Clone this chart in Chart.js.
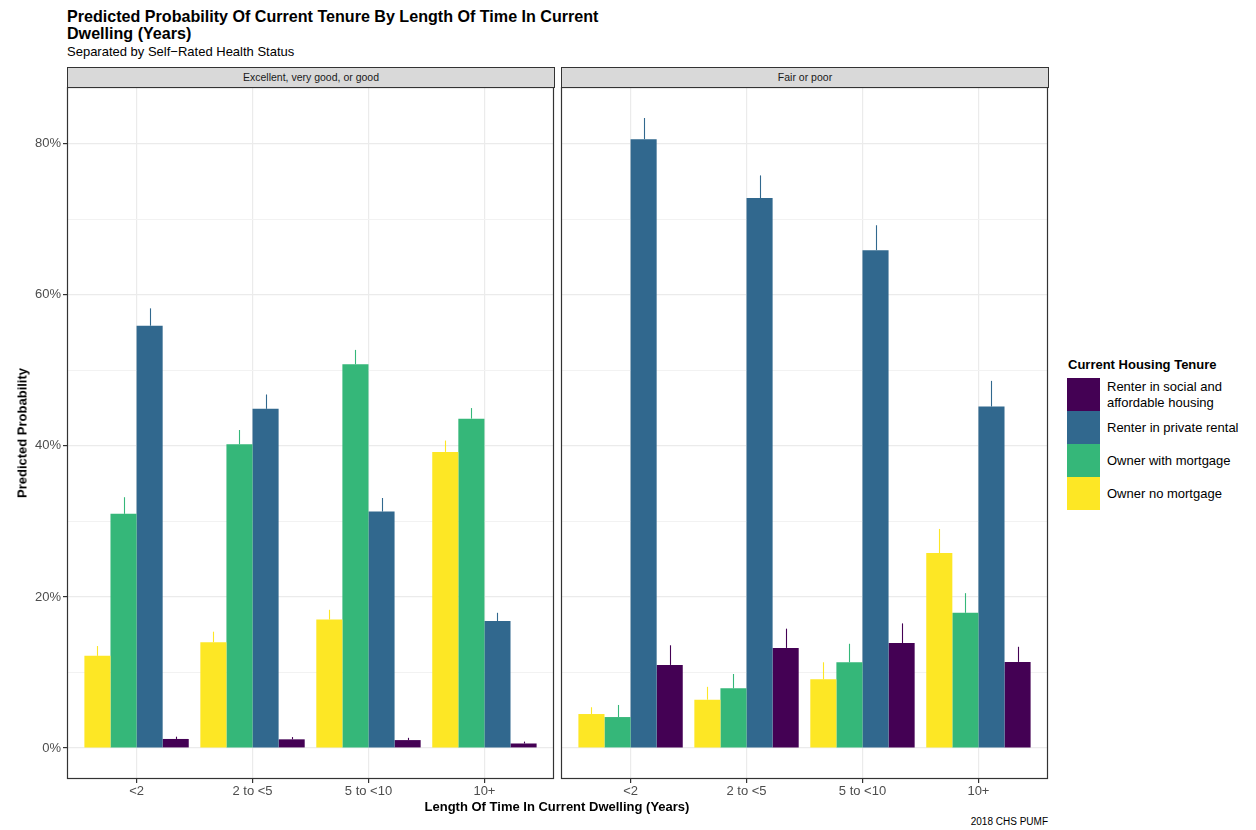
<!DOCTYPE html>
<html>
<head>
<meta charset="utf-8">
<script src="https://cdn.jsdelivr.net/npm/chart.js@4.4.1/dist/chart.umd.min.js"></script>
<style>
  body { margin: 0; background: #fff; font-family: 'Liberation Sans', Arial, sans-serif; }
  #page { position: relative; width: 1256px; height: 830px; overflow: hidden; }
  .abs { position: absolute; white-space: nowrap; }
  .title { left: 67px; top: 8px; font-size: 16.1px; font-weight: bold; line-height: 17px; color: #000; }
  .subtitle { left: 67px; top: 44px; font-size: 13px; color: #000; }
  .strip { height: 21px; top: 67px; background: #d9d9d9; border: 1px solid #333; box-sizing: border-box;
           font-size: 10.5px; color: #1a1a1a; text-align: center; line-height: 19px; }
  .ytitle { left: 22px; top: 433px; font-size: 13px; font-weight: bold; transform: translate(-50%, -50%) rotate(-90deg); }
  .xtitle { left: 557px; top: 806px; font-size: 13px; font-weight: bold; transform: translate(-50%, -50%); }
  .caption { right: 208px; top: 816px; font-size: 10px; color: #000; }
  .legend-title { left: 1068px; top: 357px; font-size: 13px; font-weight: bold; }
  .key { left: 1067px; width: 33px; height: 33px; }
  .key-label { left: 1107px; font-size: 13px; line-height: 16px; color: #000; transform: translateY(-50%); }
  canvas { position: absolute; }
</style>
</head>
<body>
<div id="page">
  <div class="abs title">Predicted Probability Of Current Tenure By Length Of Time In Current<br>Dwelling (Years)</div>
  <div class="abs subtitle">Separated by Self−Rated Health Status</div>

  <div class="abs strip" style="left:67px;width:488px;">Excellent, very good, or good</div>
  <div class="abs strip" style="left:561px;width:488px;">Fair or poor</div>

  <canvas id="goodChart" width="556" height="720" style="left:0;top:87px;"></canvas>
  <canvas id="poorChart" width="494" height="720" style="left:556px;top:87px;"></canvas>

  <div class="abs ytitle">Predicted Probability</div>
  <div class="abs xtitle">Length Of Time In Current Dwelling (Years)</div>
  <div class="abs caption">2018 CHS PUMF</div>

  <div class="abs legend-title">Current Housing Tenure</div>
  <div id="legend"></div>
</div>

<script>
const categories = ['<2', '2 to <5', '5 to <10', '10+'];
const tenures = ['Owner no mortgage', 'Owner with mortgage', 'Renter in private rental', 'Renter in social and affordable housing'];
const colors = ['#FDE725', '#35B779', '#31688E', '#440154'];
const yTicks = [0, 10, 20, 30, 40, 50, 60, 70, 80];

// Excellent, very good, or good (percent)
const goodNoMortgage = [12.2, 14.0, 17.0, 39.2];
const goodMortgage = [31.0, 40.2, 50.8, 43.6];
const goodPrivate = [55.9, 44.9, 31.3, 16.8];
const goodSocial = [1.2, 1.15, 1.05, 0.6];
// upper limits of the intervals
const goodNoMortgageHi = [13.5, 15.4, 18.3, 40.7];
const goodMortgageHi = [33.2, 42.1, 52.7, 45.0];
const goodPrivateHi = [58.2, 46.8, 33.1, 17.9];
const goodSocialHi = [1.5, 1.45, 1.35, 0.85];

// Fair or poor (percent)
const poorNoMortgage = [4.5, 6.4, 9.1, 25.8];
const poorMortgage = [4.1, 7.9, 11.35, 17.9];
const poorPrivate = [80.6, 72.8, 65.9, 45.2];
const poorSocial = [11.0, 13.25, 13.9, 11.4];
const poorNoMortgageHi = [5.4, 8.1, 11.35, 29.0];
const poorMortgageHi = [5.7, 9.8, 13.8, 20.5];
const poorPrivateHi = [83.4, 75.8, 69.2, 48.6];
const poorSocialHi = [13.6, 15.8, 16.5, 13.4];

const FONT = "'Liberation Sans', Arial, sans-serif";

// vertical whisker from bar top up to the upper limit
const errorBars = {
  id: 'errorBars',
  afterDatasetsDraw(chart) {
    const ctx = chart.ctx;
    const y = chart.scales.y;
    chart.data.datasets.forEach((ds, i) => {
      chart.getDatasetMeta(i).data.forEach((bar, j) => {
        const x = Math.round(bar.x) + 0.5;
        ctx.save();
        ctx.strokeStyle = ds.backgroundColor;
        ctx.lineWidth = 1.1;
        ctx.beginPath();
        ctx.moveTo(x, bar.y);
        ctx.lineTo(x, y.getPixelForValue(ds.upper[j]));
        ctx.stroke();
        ctx.restore();
      });
    });
  }
};

const panelBorder = {
  id: 'panelBorder',
  afterDraw(chart) {
    const a = chart.chartArea;
    const ctx = chart.ctx;
    ctx.save();
    ctx.strokeStyle = '#333333';
    ctx.lineWidth = 1.2;
    ctx.strokeRect(a.left + 0.5, a.top + 0.5, a.right - a.left - 1, a.bottom - a.top - 1);
    ctx.restore();
  }
};

function makePanel(el, series, uppers, showY) {
  return new Chart(el, {
    type: 'bar',
    data: {
      datasets: series.map((vals, k) => ({
        label: tenures[k],
        data: vals.map((v, i) => ({ x: i, y: v })),
        upper: uppers[k],
        backgroundColor: colors[k],
        borderWidth: 0,
        categoryPercentage: 0.9,
        barPercentage: 1.0,
      }))
    },
    options: {
      responsive: false,
      animation: false,
      layout: { padding: { left: showY ? 0 : 5, right: 2, top: 0, bottom: 0 } },
      scales: {
        x: {
          type: 'linear',
          min: -0.6,
          max: 3.6,
          offset: false,
          afterBuildTicks: (scale) => { scale.ticks = categories.map((c, i) => ({ value: i })); },
          afterFit: (scale) => { scale.height = 28; scale.paddingLeft = 0; scale.paddingRight = 0; },
          border: { display: false },
          grid: {
            offset: false,
            color: '#ebebeb',
            lineWidth: 1.2,
            tickLength: 4,
            tickColor: '#333333',
          },
          ticks: {
            callback: (v) => categories[v],
            color: '#4d4d4d',
            padding: 1,
            maxRotation: 0,
            autoSkip: false,
            font: { family: FONT, size: 13 },
          }
        },
        y: {
          min: -4.1,
          max: 87.5,
          afterBuildTicks: (scale) => { scale.ticks = yTicks.map(v => ({ value: v })); },
          afterFit: (scale) => { scale.width = showY ? 67 : 0; scale.paddingTop = 0; scale.paddingBottom = 0; },
          border: { display: false },
          grid: {
            color: (c) => c.tick && c.tick.value % 20 === 0 ? '#ebebeb' : '#f2f2f2',
            lineWidth: (c) => c.tick && c.tick.value % 20 === 0 ? 1.2 : 1,
            drawTicks: showY,
            tickLength: 4,
            tickColor: (c) => c.tick && c.tick.value % 20 === 0 ? '#333333' : 'rgba(0,0,0,0)',
          },
          ticks: {
            display: showY,
            callback: (v) => v % 20 === 0 ? v + '%' : '',
            color: '#4d4d4d',
            padding: 2,
            font: { family: FONT, size: 13 },
          }
        }
      },
      plugins: {
        legend: { display: false },
        tooltip: { enabled: false },
      }
    },
    plugins: [errorBars, panelBorder]
  });
}

makePanel(document.getElementById('goodChart'),
  [goodNoMortgage, goodMortgage, goodPrivate, goodSocial],
  [goodNoMortgageHi, goodMortgageHi, goodPrivateHi, goodSocialHi], true);

makePanel(document.getElementById('poorChart'),
  [poorNoMortgage, poorMortgage, poorPrivate, poorSocial],
  [poorNoMortgageHi, poorMortgageHi, poorPrivateHi, poorSocialHi], false);

// legend, reversed like ggplot
const legend = document.getElementById('legend');
const legendLabels = ['Renter in social and<br>affordable housing', 'Renter in private rental', 'Owner with mortgage', 'Owner no mortgage'];
const legendColors = colors.slice().reverse();
legendLabels.forEach((txt, i) => {
  const top = 378 + i * 33;
  const key = document.createElement('div');
  key.className = 'abs key';
  key.style.top = top + 'px';
  key.style.background = legendColors[i];
  legend.appendChild(key);
  const lab = document.createElement('div');
  lab.className = 'abs key-label';
  lab.style.top = (top + 16.5) + 'px';
  lab.innerHTML = txt;
  legend.appendChild(lab);
});
</script>
</body>
</html>
